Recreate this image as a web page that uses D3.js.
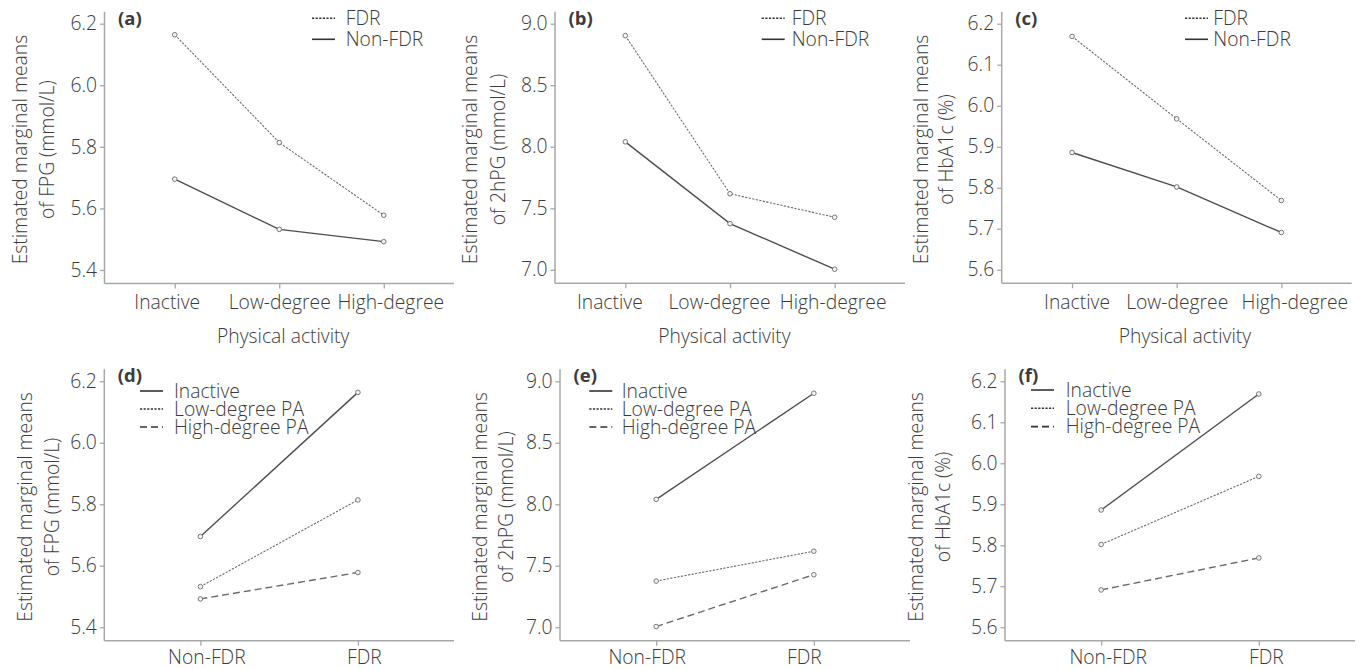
<!DOCTYPE html>
<html>
<head>
<meta charset="utf-8">
<script src="https://cdn.jsdelivr.net/npm/d3@7"></script>
<style>
  body { margin: 0; background: #fff; }
  svg text { font-family: "Open Sans", "Noto Sans", sans-serif; font-weight: 300; fill: #3c3c3c; }
</style>
</head>
<body>
<div id="chart"></div>
<script>
// values
let activity = ["Inactive", "Low-degree", "High-degree"];
let groups = ["Non-FDR", "FDR"];
let paLegend = ["Inactive", "Low-degree PA", "High-degree PA"];

let fpgFDR = [6.164, 5.814, 5.578];
let fpgNon = [5.695, 5.532, 5.492];
let hpgFDR = [8.903, 7.618, 7.427];
let hpgNon = [8.040, 7.375, 7.005];
let hbaFDR = [6.169, 5.968, 5.769];
let hbaNon = [5.886, 5.802, 5.691];

let fpgTicks = [5.4, 5.6, 5.8, 6.0, 6.2];
let hpgTicks = [7.0, 7.5, 8.0, 8.5, 9.0];
let hbaTicks = [5.6, 5.7, 5.8, 5.9, 6.0, 6.1, 6.2];

let fpgLabel = ["Estimated marginal means", "of FPG (mmol/L)"];
let hpgLabel = ["Estimated marginal means", "of 2hPG (mmol/L)"];
let hbaLabel = ["Estimated marginal means", "of HbA1c (%)"];

let W = 1365, H = 669;
let svg = d3.select("#chart").append("svg")
  .attr("width", W).attr("height", H);

let solid = null, dotted = "2.2,1.4", dashed = "7,4";

// panel layout: axis box (left, right, top, bottom) and text nudges
let panels = [
  {tag: "(a)", left: 104.5, right: 454, top: 11.7, bottom: 283.5, ticks: fpgTicks, label: fpgLabel, lx: [-84, -57],
   cats: activity, pad: 0.672, tdx: [-8, 0, 6.5], tpad: 7, title: "Physical activity", titleDx: 4,
   series: [{v: fpgFDR, dash: dotted}, {v: fpgNon, dash: solid}],
   legend: {x: 312, y: 18.3, step: 21, textX: 345.7, names: ["FDR", "Non-FDR"], dashes: [dotted, solid]}},
  {tag: "(b)", left: 555, right: 905, top: 11.7, bottom: 283.3, ticks: hpgTicks, label: hpgLabel, lx: [-85, -57],
   cats: activity, pad: 0.672, tdx: [-16, -11, -2], tpad: 7, title: "Physical activity", titleDx: -5.5,
   series: [{v: hpgFDR, dash: dotted}, {v: hpgNon, dash: solid}],
   legend: {x: 761.7, y: 18.3, step: 21, textX: 791.7, names: ["FDR", "Non-FDR"], dashes: [dotted, solid]}},
  {tag: "(c)", left: 1001.7, right: 1351.7, top: 11.7, bottom: 283.3, ticks: hbaTicks, label: hbaLabel, lx: [-80, -55],
   cats: activity, pad: 0.672, tdx: [4.5, 0, 13], tpad: 7, title: "Physical activity", titleDx: 8.3,
   series: [{v: hbaFDR, dash: dotted}, {v: hbaNon, dash: solid}],
   legend: {x: 1185, y: 18.3, step: 21, textX: 1213.3, names: ["FDR", "Non-FDR"], dashes: [dotted, solid]}},
  {tag: "(d)", left: 104.3, right: 454, top: 369.3, bottom: 640.7, ticks: fpgTicks, label: fpgLabel, lx: [-79, -52.5],
   cats: groups, pad: 0.61, tdx: [6, 6], tpad: 4.5,
   series: [0, 1, 2].map(i => ({v: [fpgNon[i], fpgFDR[i]], dash: [solid, dotted, dashed][i]})),
   legend: {x: 140, y: 391, step: 18, textX: 174, names: paLegend, dashes: [solid, dotted, dashed]}},
  {tag: "(e)", left: 560, right: 910, top: 369.3, bottom: 640.7, ticks: hpgTicks, label: hpgLabel, lx: [-80, -53.3],
   cats: groups, pad: 0.61, tdx: [-9.5, -10], tpad: 4.5,
   series: [0, 1, 2].map(i => ({v: [hpgNon[i], hpgFDR[i]], dash: [solid, dotted, dashed][i]})),
   legend: {x: 589.3, y: 391, step: 18, textX: 621.7, names: paLegend, dashes: [solid, dotted, dashed]}},
  {tag: "(f)", left: 1005, right: 1355, top: 369.3, bottom: 640.7, ticks: hbaTicks, label: hbaLabel, lx: [-88.3, -61.7],
   cats: groups, pad: 0.61, tdx: [6.5, 7], tpad: 4.5,
   series: [0, 1, 2].map(i => ({v: [hbaNon[i], hbaFDR[i]], dash: [solid, dotted, dashed][i]})),
   legend: {x: 1031, y: 390, step: 18.3, textX: 1065.7, names: paLegend, dashes: [solid, dotted, dashed]}}
];

let axisColor = "#a8a8a8";
let fontSize = 19.3;

panels.forEach(function(p) {
  let g = svg.append("g");

  let x = d3.scalePoint().domain(p.cats).range([p.left, p.right]).padding(p.pad);
  let y = d3.scaleLinear()
    .domain([p.ticks[0], p.ticks[p.ticks.length - 1]])
    .range([p.bottom - 13.5, p.top + 12]);

  // axes
  g.append("line").attr("x1", p.left).attr("x2", p.left).attr("y1", p.top).attr("y2", p.bottom)
    .attr("stroke", axisColor).attr("stroke-width", 1.5);
  g.append("line").attr("x1", p.left).attr("x2", p.right).attr("y1", p.bottom).attr("y2", p.bottom)
    .attr("stroke", axisColor).attr("stroke-width", 1.5);

  let ya = g.append("g").attr("transform", "translate(" + p.left + ",0)")
    .call(d3.axisLeft(y).tickValues(p.ticks).tickFormat(d3.format(".1f")).tickSize(4.5).tickPadding(3));
  ya.select(".domain").remove();
  ya.selectAll("line").attr("stroke", axisColor).attr("stroke-width", 1.3);
  ya.selectAll("text").attr("font-size", fontSize).attr("font-family", null);

  let xa = g.append("g").attr("transform", "translate(0," + p.bottom + ")")
    .call(d3.axisBottom(x).tickSize(5).tickPadding(p.tpad));
  xa.select(".domain").remove();
  xa.selectAll("line").attr("stroke", axisColor).attr("stroke-width", 1.3);
  xa.selectAll("text").attr("font-size", fontSize).attr("font-family", null)
    .attr("dx", (d, i) => p.tdx[i]);

  if (p.title) {
    g.append("text").attr("x", (p.left + p.right) / 2 + p.titleDx).attr("y", 342.7)
      .attr("text-anchor", "middle").attr("font-size", fontSize).text(p.title);
  }

  // y label, two lines
  let cy = (p.top + p.bottom) / 2 + 2;
  p.label.forEach(function(t, i) {
    let lxp = p.left + p.lx[i];
    g.append("text")
      .attr("transform", "translate(" + lxp + "," + cy + ") rotate(-90)")
      .attr("text-anchor", "middle").attr("dy", "0.35em")
      .attr("font-size", fontSize).text(t);
  });

  // panel tag
  g.append("text").attr("x", p.left + 13.5).attr("y", p.top + 13)
    .attr("font-size", 18.5).style("font-weight", 700).text(p.tag);

  // lines
  let line = d3.line().x((d, i) => x(p.cats[i])).y(d => y(d));
  p.series.forEach(function(s) {
    g.append("path").datum(s.v).attr("d", line)
      .attr("fill", "none")
      .attr("stroke", s.dash ? "#6a6a6a" : "#4e4e4e")
      .attr("stroke-width", s.dash === dotted ? 1.1 : 1.4)
      .attr("stroke-dasharray", s.dash);
  });
  p.series.forEach(function(s) {
    g.selectAll(null).data(s.v).enter().append("circle")
      .attr("cx", (d, i) => x(p.cats[i])).attr("cy", d => y(d))
      .attr("r", 2.3).attr("fill", "#f4f4f4").attr("stroke", "#777").attr("stroke-width", 1);
  });

  // legend
  let L = p.legend;
  L.names.forEach(function(n, i) {
    let yy = L.y + i * L.step;
    g.append("line").attr("x1", L.x).attr("x2", L.x + 23).attr("y1", yy).attr("y2", yy)
      .attr("stroke", "#333").attr("stroke-width", 1.6).attr("stroke-dasharray", L.dashes[i]);
    g.append("text").attr("x", L.textX).attr("y", yy).attr("dy", "0.35em")
      .attr("font-size", fontSize).text(n);
  });
});
</script>
</body>
</html>
